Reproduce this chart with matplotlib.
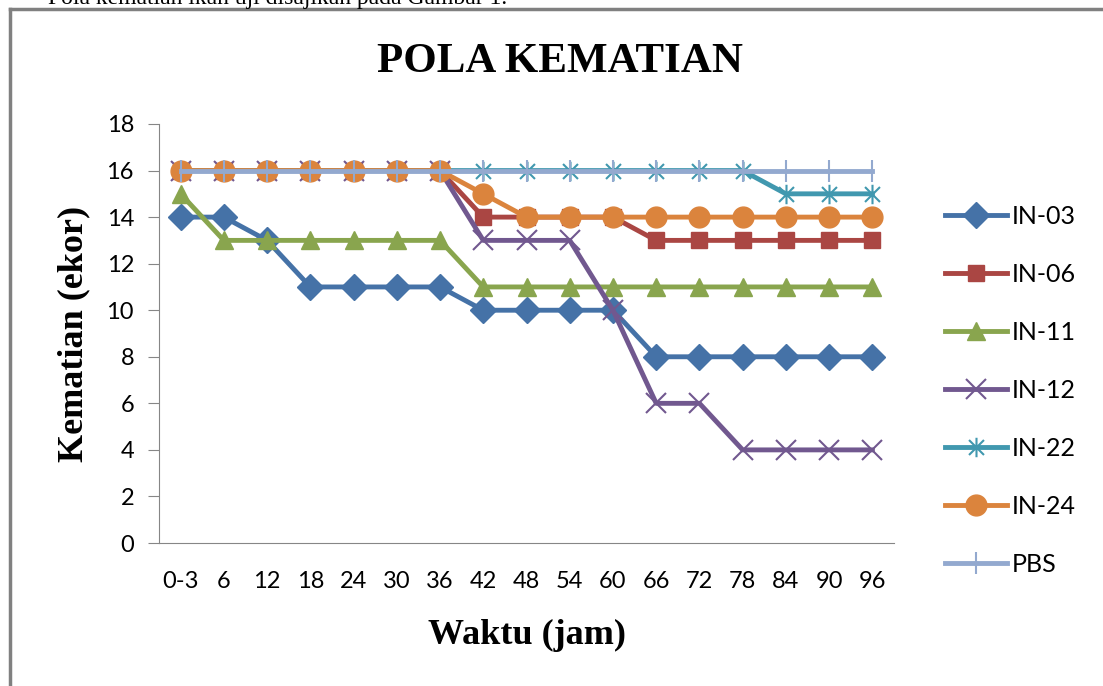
import matplotlib.pyplot as plt
import matplotlib.lines as mlines
from matplotlib.path import Path

# data
waktu = ['0-3', '6', '12', '18', '24', '30', '36', '42', '48', '54', '60',
         '66', '72', '78', '84', '90', '96']
in03 = [14, 14, 13, 11, 11, 11, 11, 10, 10, 10, 10, 8, 8, 8, 8, 8, 8]
in06 = [16, 16, 16, 16, 16, 16, 16, 14, 14, 14, 14, 13, 13, 13, 13, 13, 13]
in11 = [15, 13, 13, 13, 13, 13, 13, 11, 11, 11, 11, 11, 11, 11, 11, 11, 11]
in12 = [16, 16, 16, 16, 16, 16, 16, 13, 13, 13, 10, 6, 6, 4, 4, 4, 4]
in22 = [16, 16, 16, 16, 16, 16, 16, 16, 16, 16, 16, 16, 16, 16, 15, 15, 15]
in24 = [16, 16, 16, 16, 16, 16, 16, 15, 14, 14, 14, 14, 14, 14, 14, 14, 14]
pbs = [16] * 17

# asterisk ala excel (x + garis tegak)
asterisk = Path([(-1, -1), (1, 1), (-1, 1), (1, -1), (0, -1.3), (0, 1.3)],
                [Path.MOVETO, Path.LINETO, Path.MOVETO, Path.LINETO, Path.MOVETO, Path.LINETO])

series = [
    ('IN-03', in03, '#4572A7', 'D', 13, True),
    ('IN-06', in06, '#AA4643', 's', 12, True),
    ('IN-11', in11, '#89A54E', '^', 13, True),
    ('IN-12', in12, '#71588F', 'x', 15, False),
    ('IN-22', in22, '#4198AF', asterisk, 14, False),
    ('IN-24', in24, '#DB843D', 'o', 15, True),
    ('PBS', pbs, '#93A9CF', '|', 16, False),
]

W, H = 1103, 686
fig = plt.figure(figsize=(W / 100, H / 100), dpi=100)
ax = fig.add_axes([159 / W, 1 - 543 / H, (894 - 159) / W, (543 - 124) / H])

x = list(range(len(waktu)))
for name, vals, col, mk, ms, filled in series:
    if filled:
        ax.plot(x, vals, color=col, lw=3.5, marker=mk, ms=ms, mfc=col, mec=col, label=name)
    else:
        ax.plot(x, vals, color=col, lw=3.5, marker=mk, ms=ms, mew=1.5, mec=col, label=name)

ax.set_xlim(-0.5, len(waktu) - 0.5)
ax.set_ylim(0, 18)
ax.set_yticks(range(0, 19, 2))
ax.set_xticks(x)
ax.set_xticklabels(waktu)
for s in ['top', 'right']:
    ax.spines[s].set_visible(False)
for s in ['left', 'bottom']:
    ax.spines[s].set_color('#868686')
ax.tick_params(axis='y', length=8, color='#868686', labelsize=17, pad=10)
ax.tick_params(axis='x', length=0, labelsize=17, pad=20)
for t in ax.get_xticklabels() + ax.get_yticklabels():
    t.set_fontfamily('Lato')

ax.set_xlabel('Waktu (jam)', fontfamily='Liberation Serif', fontweight='bold', fontsize=26)
ax.xaxis.set_label_coords(0.5, -0.182)
ax.set_ylabel('Kematian (ekor)', fontfamily='Liberation Serif', fontweight='bold', fontsize=26)
ax.yaxis.set_label_coords(-0.093, 0.5)

fig.text(560 / W, 1 - 62 / H, 'POLA KEMATIAN', ha='center', va='center',
         fontfamily='Liberation Serif', fontweight='bold', fontsize=31)

leg = fig.legend(loc='center left', bbox_to_anchor=(922 / W, 1 - 390 / H), frameon=False,
                 prop={'family': 'Lato', 'size': 18}, handlelength=2.5, handletextpad=0.2,
                 labelspacing=1.4, numpoints=1)

# teks kalimat terpotong di atas & bingkai gambar
fig.text(48 / W, 1 - 4 / H, 'Pola kematian ikan uji disajikan pada Gambar 1.', ha='left',
         va='baseline', fontfamily='Liberation Serif', fontsize=17)
fig.add_artist(mlines.Line2D([10 / W, 10 / W], [0, 1 - 9 / H], color='#808080', lw=2.5))
fig.add_artist(mlines.Line2D([10 / W, 1], [1 - 9 / H, 1 - 9 / H], color='#808080', lw=2.5))

fig.savefig('out.png', dpi=100)
